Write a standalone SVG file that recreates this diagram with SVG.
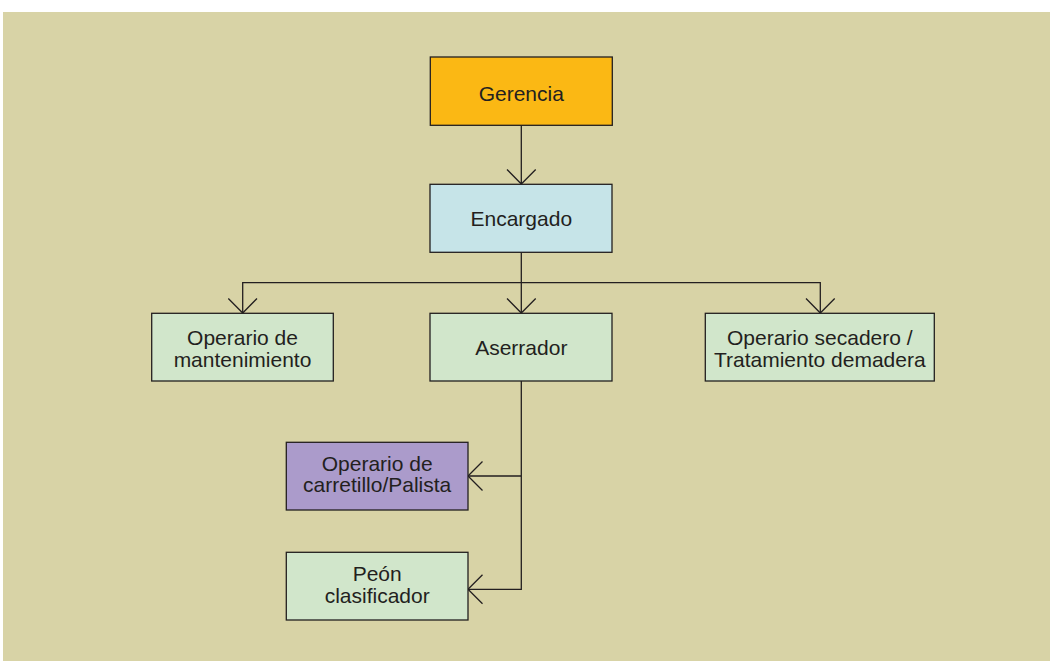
<svg xmlns="http://www.w3.org/2000/svg" width="1050" height="661" viewBox="0 0 1050 661">
<style>
.bx{stroke:#231f20;stroke-width:1.3}
.t{font-family:"Liberation Sans",Arial,sans-serif;font-size:21px;fill:#231f20;text-anchor:middle}
.c{fill:none;stroke:#231f20;stroke-width:1.3}
</style>
<rect x="0" y="0" width="1050" height="661" fill="#ffffff"/>
<rect x="3" y="12" width="1047" height="649" fill="#d8d3a6"/>
<g id="connectors">
<path class="c" d="M521.3 125.3V184M507 169.5L521.3 184L535.7 169.5"/>
<path class="c" d="M521.3 252.3V313M242.7 313V282.7H820.3V313"/>
<path class="c" d="M228.3 298.5L242.7 313L257 298.5M507 298.5L521.3 313L535.7 298.5M806 298.5L820.3 313L834.7 298.5"/>
<path class="c" d="M521.3 381V589.3H468M521.3 476H468"/>
<path class="c" d="M482.5 461.5L468 476L482.5 490.5M482.5 574.8L468 589.3L482.5 603.8"/>
</g>
<g id="gerencia"><rect class="bx" x="430.3" y="57" width="182" height="68.3" fill="#fbb814"/><text class="t" x="521.3" y="100.5">Gerencia</text></g>
<g id="encargado"><rect class="bx" x="430" y="184.3" width="182" height="68" fill="#c6e4e8"/><text class="t" x="521.3" y="225.5">Encargado</text></g>
<g id="mantenimiento"><rect class="bx" x="151.7" y="313.3" width="181.6" height="67.7" fill="#d1e6cb"/><text class="t" x="242.5" y="345">Operario de</text><text class="t" x="242.5" y="367">mantenimiento</text></g>
<g id="aserrador"><rect class="bx" x="430" y="313.3" width="182" height="67.7" fill="#d1e6cb"/><text class="t" x="521.3" y="354.5">Aserrador</text></g>
<g id="secadero"><rect class="bx" x="705.3" y="313.3" width="229" height="67.7" fill="#d1e6cb"/><text class="t" x="819.8" y="344.5">Operario secadero /</text><text class="t" x="819.8" y="366.5">Tratamiento demadera</text></g>
<g id="carretillo"><rect class="bx" x="286.3" y="442.3" width="181.7" height="67.7" fill="#ab9bcb"/><text class="t" x="377.2" y="470.5">Operario de</text><text class="t" x="377.2" y="492">carretillo/Palista</text></g>
<g id="peon"><rect class="bx" x="286.3" y="552.3" width="181.7" height="67.7" fill="#d1e6cb"/><text class="t" x="377.2" y="581">Peón</text><text class="t" x="377.2" y="602.5">clasificador</text></g>
</svg>
